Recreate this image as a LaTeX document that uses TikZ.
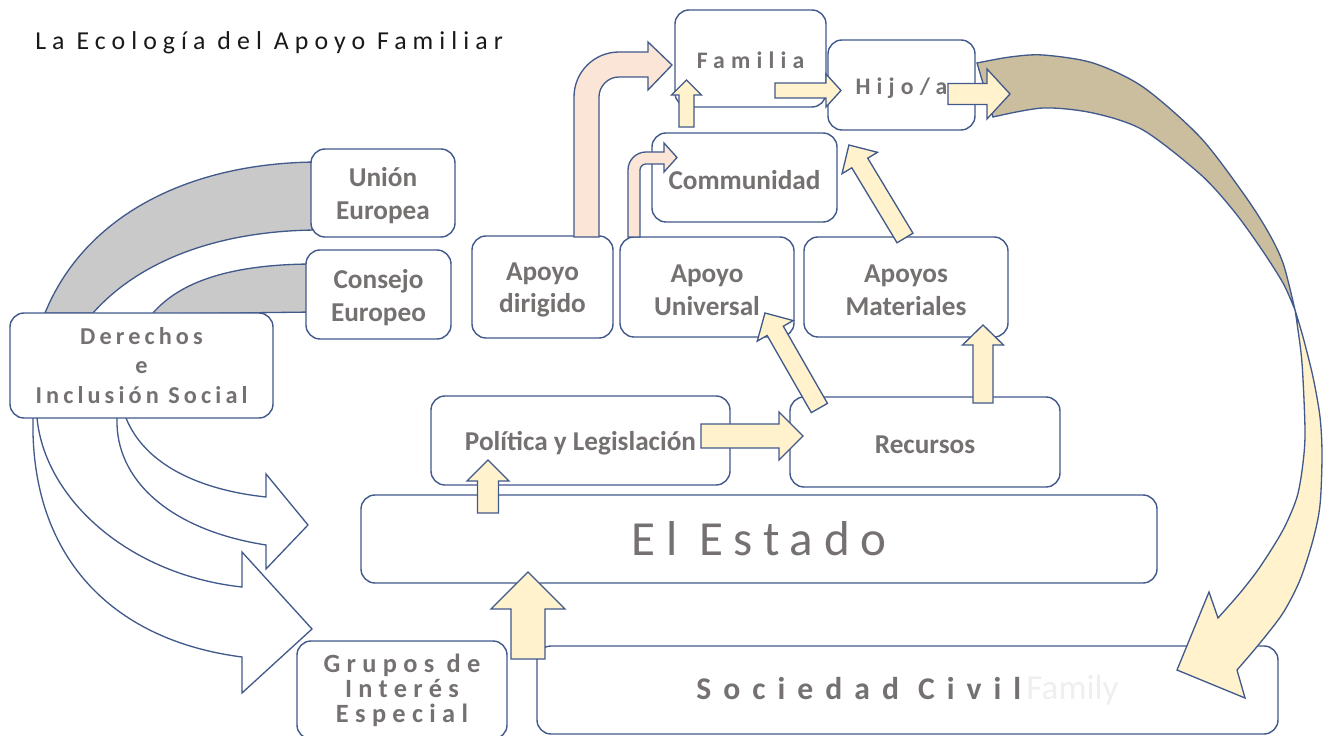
\documentclass[tikz,border=0pt]{standalone}
\usepackage{fontspec}
\setmainfont{Carlito}
\newfontfamily\spA[LetterSpace=23.5]{Carlito}
\newfontfamily\spB[LetterSpace=17]{Carlito}
\newfontfamily\spBB[LetterSpace=22]{Carlito}
\newfontfamily\spC[LetterSpace=24]{Carlito}
\newfontfamily\spD[LetterSpace=26]{Carlito}
\newfontfamily\spE[LetterSpace=38]{Carlito}
\newfontfamily\plainC{Carlito}
\usetikzlibrary{calc}
\definecolor{bord}{HTML}{41598B}
\definecolor{txt}{HTML}{757171}
\definecolor{cream}{HTML}{FFF2CC}
\definecolor{pinkf}{HTML}{FBE5D6}
\definecolor{bandc}{HTML}{C9C9C9}
\definecolor{khaki}{HTML}{CBBE9F}
\definecolor{ghost}{HTML}{EFEFEF}
\newcommand\boxfont{\fontsize{15.5pt}{18.7pt}\selectfont\bfseries}
\newcommand\derfont{\spB\bfseries\fontsize{13.8pt}{16.7pt}\selectfont}
\newcommand\grpfont{\spC\bfseries\fontsize{15pt}{14.2pt}\selectfont}
\newcommand\socfont{\spE\bfseries\fontsize{18pt}{20pt}\selectfont}
\newcommand\estfont{\spBB\fontsize{27.9pt}{32pt}\selectfont}
\newcommand\famfont{\spD\bfseries\fontsize{13.5pt}{16pt}\selectfont}
\newcommand\ghostfont{\plainC\mdseries\fontsize{20pt}{22pt}\selectfont\color{ghost}}
\newcommand\titfont{\spA\fontsize{14.7pt}{17pt}\selectfont}
\tikzset{
  box/.style={draw=bord, line width=0.8pt, fill=white, rounded corners=8pt, inner sep=0pt},
  boxtext/.style={inner sep=0pt, text=txt, align=center, font=\boxfont},
  low/.style={yshift=-0.06cm},
  shapeline/.style={draw=bord, line width=0.75pt, line join=miter},
}
% box: [text opts]{name}{x1}{y1}{x2}{y2}{text}
\newcommand\bx[7][low]{%
  \node[box,minimum width={(#5-#3)*0.02cm},minimum height={(#6-#4)*0.02cm}] (#2) at ({(#3+#5)/2},{(#4+#6)/2}) {};
  \node[boxtext,#1] (#2-t) at (#2.center) {#7};}
% block arrow: {x}{y}{angle}{length}{shaft half}{head half}{head length}{fill}
\newcommand\barrow[8]{\filldraw[shapeline, fill=#8, shift={(#1,#2)}, rotate=#3]
  (0,-#5) -- ({#4-#7},-#5) -- ({#4-#7},-#6) -- (#4,0) -- ({#4-#7},#6) -- ({#4-#7},#5) -- (0,#5) -- cycle;}
\begin{document}
\begin{tikzpicture}[x=0.02cm, y=-0.02cm]
\useasboundingbox (0,0) rectangle (1323,736);
\fill[white] (0,0) rectangle (1323,736);
\clip (0,0) rectangle (1323,736);

\node[anchor=base west, inner sep=0pt, font=\titfont, text=black!90] (title) at (35,50) {La Ecología del Apoyo Familiar};

% grey bands
\filldraw[shapeline, fill=bandc] (45,313) .. controls (85,215) and (190,162) .. (320,162) -- (320,230)
  .. controls (220,230) and (140,260) .. (93,313) -- cycle;
\filldraw[shapeline, fill=bandc] (153,313) .. controls (180,282) and (230,264) .. (315,264) -- (315,312) -- (153,314) -- cycle;

% white curved arrows
\filldraw[shapeline, fill=white] (37,410) -- (37,418) .. controls (45,500) and (130,575) .. (242,587) -- (242,552) -- (312,629)
  -- (242,693) -- (242,657) .. controls (110,640) and (30,555) .. (33,418) -- (33,410) -- cycle;
\filldraw[shapeline, fill=white] (126,410) -- (126,418) .. controls (145,465) and (200,490) .. (266,497) -- (266,474) -- (308,525)
  -- (266,569) -- (266,545) .. controls (170,530) and (115,480) .. (117,418) -- (117,410) -- cycle;

% boxes
\bx{ue}{311}{149}{455}{237}{Unión\\Europea}
\bx{ce}{306}{250}{451}{339}{Consejo\\Europeo}
\bx[font=\derfont]{der}{10}{313}{273}{418}{Derechos\\e\\Inclusión Social}
\bx[font=\grpfont]{gie}{297}{641}{507}{739}{Grupos de\\Interés\\Especial}
\bx[font=\socfont]{sc}{537}{646}{1278}{734}{Sociedad Civil\kern3pt{\ghostfont Family}}
\bx[font=\estfont]{est}{361}{495}{1157}{583}{El Estado}
\bx{pol}{431}{396}{730}{485}{Política y Legislación}
\bx{rec}{790}{397}{1060}{487}{Recursos}
\bx{adir}{472}{236}{613}{338}{Apoyo\\dirigido}
\bx{auni}{620}{237}{794}{337}{Apoyo\\Universal}
\bx{amat}{804}{237}{1008}{337}{Apoyos\\Materiales}
\bx{com}{652}{133}{837}{222}{Communidad}
\bx[font=\famfont, yshift=-0.035cm]{fam}{675}{10}{826}{107}{Familia}
\bx[font=\famfont, low]{hij}{828}{40}{975}{130}{Hijo/a}

% pink bent arrows
\filldraw[shapeline, fill=pinkf] (574,237) -- (574,97) .. controls (574,72.1) and (594.1,52) .. (619,52) -- (648,52) -- (648,42)
  -- (672,65) -- (648,90) -- (648,77) -- (619,77) .. controls (608,77) and (599,86) .. (599,97) -- (599,237) -- cycle;
\filldraw[shapeline, fill=pinkf] (628,237) -- (628,170) .. controls (628,160.1) and (636.1,152) .. (646,152) -- (664,152) -- (664,143)
  -- (677,157.5) -- (664,172) -- (664,164) -- (646,164) .. controls (642.7,164) and (640,166.7) .. (640,170) -- (640,237) -- cycle;

% big twisted arc arrow
\filldraw[shapeline, fill=khaki] plot[smooth] coordinates {(977,63) (1010,57) (1043,55) (1093,63) (1143,87) (1200,137) (1243,193) (1267,230) (1283,263) (1295,310)}
  -- plot[smooth] coordinates {(1295,310) (1283,283) (1260,247) (1233,210) (1200,174) (1143,130) (1093,113) (1043,108) (993,117)} -- cycle;
\filldraw[shapeline, fill=cream] plot[smooth] coordinates {(1295,310) (1303,337) (1313,377) (1320,417) (1322,455) (1320,505) (1313,540) (1300,580) (1283,613) (1260,643) (1237,670)}
  -- (1245,698) -- (1177,670) -- (1209,592)
  -- plot[smooth] coordinates {(1218,618) (1240,593) (1260,567) (1283,530) (1297,497) (1303,463) (1305,430) (1302,363) (1297,323) (1295,310)} -- cycle;

% block arrows
\barrow{701}{436}{0}{102}{12}{24}{24}{cream}
\barrow{819.4}{408}{119.8}{109.5}{9.3}{20.7}{20.6}{cream}
\barrow{983}{403}{90}{78}{10}{20.5}{20}{cream}
\barrow{905}{238}{121.1}{108.6}{9.3}{20.7}{21}{cream}
\barrow{686.5}{127}{90}{47}{7.5}{15}{15}{cream}
\barrow{775}{90.5}{0}{66}{7.5}{16.5}{15}{cream}
\barrow{948}{94}{0}{62}{10.5}{25}{23}{cream}
\barrow{488}{513}{90}{53}{10.5}{21}{21}{cream}
\barrow{528}{659}{90}{87}{17}{37}{37}{cream}
\end{tikzpicture}
\end{document}
